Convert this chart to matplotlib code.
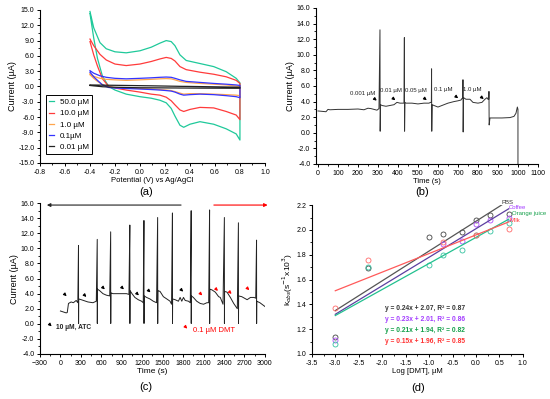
import matplotlib
matplotlib.use("Agg")
import matplotlib.pyplot as plt
from matplotlib.ticker import AutoMinorLocator, FormatStrFormatter

plt.rcParams['font.family'] = ['Liberation Sans', 'DejaVu Sans']

# ---- (a) cyclic voltammograms ----
E_fwd = [-0.4, -0.37, -0.32, -0.27, -0.2, -0.11, 0.0, 0.09, 0.16, 0.21, 0.25, 0.28,
         0.32, 0.37, 0.48, 0.59, 0.69, 0.77, 0.8]
E_rev = [0.8, 0.77, 0.69, 0.59, 0.48, 0.4, 0.35, 0.32, 0.28, 0.25, 0.21, 0.16, 0.09,
         0.0, -0.11, -0.2, -0.25, -0.3, -0.34, -0.37, -0.4]

i50_fwd = [14.7, 11.5, 8.6, 7.4, 6.8, 6.6, 7.0, 7.7, 8.5, 9.0, 8.8, 8.0, 6.2, 5.1, 4.5, 3.9, 2.9, 1.6, 0.7]
i50_rev = [-10.5, -9.3, -8.3, -7.4, -6.9, -7.4, -8.0, -7.6, -5.8, -4.3, -3.2, -2.7, -2.3,
           -2.0, -1.5, -0.7, 0.0, 2.0, 5.5, 9.5, 14.3]
i10_fwd = [9.3, 8.0, 6.3, 5.2, 4.4, 4.1, 4.4, 4.9, 5.4, 5.7, 5.5, 5.0, 3.9, 3.3, 2.8, 2.4, 1.9, 1.2, 0.6]
i10_rev = [-6.5, -5.6, -4.9, -4.2, -4.1, -4.5, -4.9, -4.6, -3.6, -2.8, -2.1, -1.7, -1.5,
           -1.1, -0.7, -0.3, 0.0, 1.5, 4.0, 6.2, 8.8]
i1_fwd = [2.5, 2.0, 1.6, 1.4, 1.3, 1.2, 1.3, 1.4, 1.5, 1.55, 1.5, 1.3, 1.0, 0.8, 0.6, 0.45, 0.3, 0.1, 0.0]
i1_rev = [-1.8, -1.7, -1.6, -1.5, -1.4, -1.4, -1.5, -1.3, -1.0, -0.8, -0.7, -0.6, -0.5,
          -0.4, -0.3, -0.2, -0.1, 0.4, 1.0, 1.6, 2.3]
i01_fwd = [3.1, 2.6, 2.1, 1.8, 1.6, 1.5, 1.6, 1.7, 1.8, 1.85, 1.8, 1.6, 1.3, 1.0, 0.8, 0.6, 0.45, 0.3, 0.2]
i01_rev = [-2.2, -2.0, -1.8, -1.6, -1.5, -1.6, -1.7, -1.5, -1.1, -0.9, -0.8, -0.7, -0.6,
           -0.5, -0.4, -0.3, -0.2, 0.3, 1.2, 1.9, 2.8]
i001_fwd = [0.3, 0.29, 0.27, 0.25, 0.23, 0.2, 0.16, 0.13, 0.1, 0.08, 0.06, 0.05, 0.03, 0.02,
            -0.02, -0.06, -0.1, -0.13, -0.15]
i001_rev = [-0.35, -0.35, -0.34, -0.33, -0.32, -0.31, -0.3, -0.3, -0.29, -0.29, -0.28, -0.27,
            -0.26, -0.25, -0.2, -0.15, -0.1, -0.05, 0.05, 0.12, 0.2]

cv_labels = ["50.0 \u00b5M", "10.0 \u00b5M", "1.0 \u00b5M", "0.1\u00b5M", "0.01 \u00b5M"]
cv_colors = ["#1fc99a", "#ff3b3b", "#ffa64d", "#3333ff", "#222222"]

# ---- (b) amperometric response ----
tb = [0, 20, 40, 50, 60, 100, 150, 200, 230, 250, 265, 280, 295, 305, 310, 311, 313,
      320, 340, 360, 380, 395, 410, 425, 430, 432, 433, 435,
      440, 470, 500, 530, 555, 563, 567, 568, 569, 571,
      580, 600, 620, 650, 680, 700, 715, 720, 724, 725, 726, 728,
      740, 760, 775, 800, 820, 835, 845, 850, 854, 855, 856, 860,
      880, 920, 960, 980, 990, 997, 1000, 1000]
ib = [2.8, 2.75, 2.7, 3.0, 2.95, 3.0, 3.0, 3.05, 2.95, 3.15, 3.1, 3.0, 2.9, 3.1, 13.2, 0.2, 3.6,
      3.5, 3.4, 3.5, 3.6, 3.9, 3.8, 3.8, 3.8, 12.2, 0.2, 3.9,
      3.8, 3.8, 3.7, 3.8, 3.8, 3.9, 3.9, 8.2, 0.2, 3.6,
      3.5, 3.3, 3.5, 3.8, 4.0, 4.1, 4.2, 4.4, 4.4, 6.8, 0.1, 4.5,
      4.3, 4.3, 3.9, 3.8, 3.9, 4.3, 4.5, 4.3, 4.3, 5.3, 1.0, 1.9,
      1.9, 1.9, 1.95, 2.1, 2.5, 3.3, 3.0, -4.0]
b_texts = ["0.001 \u00b5M", "0.01 \u00b5M", "0.05 \u00b5M", "0.1 \u00b5M", "1.0 \u00b5M"]
b_text_x = [225, 364, 488, 628, 772]
b_text_y = [5.0, 5.4, 5.4, 5.6, 5.5]
b_arrow_x = [305, 398, 555, 712, 840]
b_arrow_y = [3.9, 3.95, 3.95, 4.2, 4.1]

# ---- (c) repeated additions ----
tc = [0, 84, 100, 118, 157, 190, 231, 255, 265, 266, 268,
      305, 403, 477, 526, 540, 541, 543,
      575, 624, 674, 723, 737, 738, 740,
      772, 870, 969, 1005, 1018, 1019, 1021,
      1050, 1092, 1141, 1190, 1215, 1225, 1226, 1228,
      1264, 1313, 1362, 1410, 1426, 1427, 1429,
      1461, 1510, 1560, 1608, 1630, 1643, 1644, 1646,
      1682, 1731, 1756, 1780, 1805, 1830, 1878, 1905, 1918, 1919, 1921,
      1950, 1999, 2051, 2100, 2149, 2175, 2188, 2189, 2191,
      2223, 2272, 2321, 2345, 2385, 2405, 2406, 2408,
      2444, 2493, 2542, 2595, 2611, 2612, 2614,
      2660, 2739, 2788, 2840, 2865, 2877, 2878, 2880,
      2926, 3000]
ic = [1.7, 1.45, 1.5, 2.7, 2.9, 2.8, 3.1, 2.8, 10.4, 0.05, 3.3,
      3.2, 2.9, 2.8, 3.0, 11.2, 0.05, 4.6,
      4.4, 4.0, 3.8, 3.7, 12.2, 0.05, 4.1,
      4.0, 4.0, 4.0, 3.9, 13.1, 0.05, 4.4,
      4.0, 3.5, 3.2, 3.0, 2.8, 13.7, 0.05, 3.7,
      3.5, 3.3, 3.0, 2.8, 14.1, 0.05, 4.4,
      4.3, 3.6, 3.3, 3.0, 2.6, 14.7, 0.05, 3.3,
      3.2, 3.0, 3.5, 3.0, 3.5, 3.1, 3.0, 2.8, 15.0, 0.05, 3.7,
      3.5, 3.0, 2.7, 2.6, 2.8, 2.8, 15.1, 0.05, 4.6,
      4.5, 4.2, 3.6, 3.5, 2.6, 14.1, 0.05, 4.3,
      4.2, 3.5, 2.7, 2.0, 13.4, 0.05, 3.7,
      3.6, 3.2, 3.5, 3.5, 3.4, 11.1, 0.05, 3.0,
      2.8, 2.3]
c_black_x = [120, 410, 680, 960, 1180, 1350, 1830]
c_black_y = [3.4, 3.3, 4.3, 4.3, 3.5, 3.9, 4.0]
c_red_x = [2110, 2340, 2540, 2800]
c_red_y = [3.5, 4.1, 3.7, 4.2]

# ---- (d) calibration ----
d_x = [-3.0, -2.3, -1.0, -0.7, -0.3, 0.0, 0.3, 0.7]
k_pbs = [1.14, 1.69, 1.94, 1.97, 1.98, 2.08, 2.12, 2.13]
k_coffee = [1.11, None, None, 1.89, 1.91, 2.05, 2.08, 2.10]
k_orange = [1.08, 1.70, 1.72, 1.80, 1.84, 1.96, 1.99, 2.06]
k_milk = [1.37, 1.76, None, 1.90, None, 1.96, None, 2.01]
fit_slope = [0.24, 0.23, 0.21, 0.15]
fit_icpt = [2.07, 2.01, 1.94, 1.96]
fit_r2 = [0.87, 0.86, 0.82, 0.85]
fit_xmax = [0.55, 0.7, 0.7, 0.7]
d_names = ["PBS", "Coffee", "Orange juice", "Milk"]
d_line_col = ["#555555", "#5b3fa0", "#22c08f", "#ff5a5a"]
d_pt_col = ["#444444", "#b04dff", "#33c2a0", "#ff6a6a"]
d_txt_col = ["#333333", "#a33cff", "#14a04a", "#ff3030"]

fig = plt.figure(figsize=(5.5, 3.99), dpi=100)
axa = fig.add_axes([0.0727, 0.5915, 0.409, 0.3835])
axb = fig.add_axes([0.5745, 0.589, 0.4036, 0.391])
axc = fig.add_axes([0.0727, 0.1128, 0.409, 0.378])
axd = fig.add_axes([0.567, 0.1128, 0.3836, 0.373])


def style(ax):
    ax.spines['top'].set_visible(False)
    ax.spines['right'].set_visible(False)
    for s in ['left', 'bottom']:
        ax.spines[s].set_linewidth(0.8)
    ax.tick_params(which='major', direction='out', length=2.5, width=0.7, labelsize=5, pad=1.5)
    ax.tick_params(which='minor', direction='out', length=1.5, width=0.6)
    ax.xaxis.set_minor_locator(AutoMinorLocator(2))
    ax.yaxis.set_minor_locator(AutoMinorLocator(2))


# (a)
curves = [(i50_fwd, i50_rev), (i10_fwd, i10_rev), (i1_fwd, i1_rev), (i01_fwd, i01_rev), (i001_fwd, i001_rev)]
for (f, r), lab, col in zip(curves, cv_labels, cv_colors):
    axa.plot(E_fwd + E_rev, f + r, color=col, lw=0.9, label=lab)
axa.set_xlim(-0.8, 1.0)
axa.set_ylim(-15, 15)
axa.set_xticks([-0.8, -0.6, -0.4, -0.2, 0.0, 0.2, 0.4, 0.6, 0.8, 1.0])
axa.set_yticks(range(-15, 16, 3))
axa.xaxis.set_major_formatter(FormatStrFormatter('%.1f'))
axa.yaxis.set_major_formatter(FormatStrFormatter('%.1f'))
style(axa)
axa.set_xlabel("Potential (V) vs Ag/AgCl", fontsize=5.5, labelpad=1)
axa.set_ylabel("Current (\u00b5A)", fontsize=6.5, labelpad=1)
leg = axa.legend(loc='lower left', bbox_to_anchor=(0.01, 0.03), fontsize=5.8, handlelength=0.5,
                 handletextpad=0.8, labelspacing=0.45, borderpad=0.4, fancybox=False,
                 edgecolor='black', framealpha=1)
leg.get_frame().set_linewidth(0.7)

# (b)
axb.plot(tb, ib, color='#333333', lw=0.7)
axb.set_xlim(-10, 1100)
axb.set_ylim(-4, 16)
axb.set_xticks(range(0, 1101, 100))
axb.set_yticks(range(-4, 17, 2))
axb.yaxis.set_major_formatter(FormatStrFormatter('%.1f'))
style(axb)
axb.set_xlabel("Time (s)", fontsize=5.5, labelpad=1)
axb.set_ylabel("Current (\u00b5A)", fontsize=6.5, labelpad=1)
for t, x, y in zip(b_texts, b_text_x, b_text_y):
    axb.text(x, y, t, fontsize=4.3, ha='center', va='center', color='#222222')
for x, y in zip(b_arrow_x, b_arrow_y):
    axb.annotate('', xy=(x, y), xytext=(-5, 4), textcoords='offset points',
                 arrowprops=dict(arrowstyle='-|>', lw=0.8, color='black', mutation_scale=4))

# (c)
axc.plot(tc, ic, color='#222222', lw=0.7)
axc.set_xlim(-300, 3000)
axc.set_ylim(-4, 16)
axc.set_xticks(range(-300, 3001, 300))
axc.set_yticks(range(-4, 17, 2))
axc.yaxis.set_major_formatter(FormatStrFormatter('%.1f'))
style(axc)
axc.set_xlabel("Time (s)", fontsize=6, labelpad=1)
axc.set_ylabel("Current (\u00b5A)", fontsize=6.5, labelpad=1)
for x, y in zip(c_black_x, c_black_y):
    axc.annotate('', xy=(x, y), xytext=(-4, 4), textcoords='offset points',
                 arrowprops=dict(arrowstyle='-|>', lw=0.8, color='black', mutation_scale=4))
for x, y in zip(c_red_x, c_red_y):
    axc.annotate('', xy=(x, y), xytext=(-4, 4), textcoords='offset points',
                 arrowprops=dict(arrowstyle='-|>', lw=0.8, color='red', mutation_scale=4))
axc.annotate('', xy=(-100, -0.6), xytext=(-4, 4), textcoords='offset points',
             arrowprops=dict(arrowstyle='-|>', lw=0.8, color='black', mutation_scale=4))
axc.text(-60, -0.5, "10 \u00b5M, ATC", fontsize=4.8, fontweight='bold', va='center', color='#222222')
axc.annotate('', xy=(1890, -0.9), xytext=(-4, 4), textcoords='offset points',
             arrowprops=dict(arrowstyle='-|>', lw=0.8, color='red', mutation_scale=4))
axc.text(1950, -0.9, "0.1 \u00b5M DMT", fontsize=5.5, va='center', color='red')
axc.annotate('', xy=(-240, 15.75), xytext=(1810, 15.75),
             arrowprops=dict(arrowstyle='-|>', lw=0.8, color='#222222', mutation_scale=5))
axc.annotate('', xy=(3080, 15.75), xytext=(2210, 15.75), annotation_clip=False,
             arrowprops=dict(arrowstyle='-|>', lw=0.8, color='red', mutation_scale=5))

# (d)
series = [k_pbs, k_coffee, k_orange, k_milk]
for k, lc, pc, s, b, xm in zip(series, d_line_col, d_pt_col, fit_slope, fit_icpt, fit_xmax):
    xs = [x for x, v in zip(d_x, k) if v is not None]
    ys = [v for v in k if v is not None]
    axd.plot(xs, ys, 'o', mfc='none', mec=pc, ms=3.6, mew=0.6)
    axd.plot([-3.0, xm], [s * -3.0 + b, s * xm + b], color=lc, lw=0.9)
label_pos = [(0.55, 2.225), (0.7, 2.18), (0.77, 2.135), (0.72, 2.08)]
for name, col, (x, y) in zip(d_names, d_txt_col, label_pos):
    axd.text(x, y, name, fontsize=4.3, color=col, va='center', clip_on=False)
eq_y = [1.37, 1.28, 1.19, 1.10]
for s, b, r, col, y in zip(fit_slope, fit_icpt, fit_r2, d_txt_col, eq_y):
    axd.text(-1.95, y, "y = %.2fx + %.2f, R\u00b2 = %.2f" % (s, b, r), fontsize=4.8,
             color=col, va='center', fontweight='bold')
axd.set_xlim(-3.5, 1.0)
axd.set_ylim(1.0, 2.2)
axd.set_xticks([-3.5, -3.0, -2.5, -2.0, -1.5, -1.0, -0.5, 0.0, 0.5, 1.0])
axd.set_yticks([1.0, 1.2, 1.4, 1.6, 1.8, 2.0, 2.2])
axd.xaxis.set_major_formatter(FormatStrFormatter('%.1f'))
axd.yaxis.set_major_formatter(FormatStrFormatter('%.1f'))
style(axd)
axd.set_xlabel("Log [DMT], \u00b5M", fontsize=5.5, labelpad=1)
axd.set_ylabel("k$_{obs}$(s$^{-1}$x10$^{3}$)", fontsize=6, labelpad=1)

fig.text(0.266, 1 - 192 / 399, "(a)", fontsize=8, ha='center', va='center')
fig.text(0.767, 1 - 192 / 399, "(b)", fontsize=8, ha='center', va='center')
fig.text(0.266, 1 - 387 / 399, "(c)", fontsize=8, ha='center', va='center')
fig.text(0.760, 1 - 388 / 399, "(d)", fontsize=8, ha='center', va='center')

fig.savefig("out.png", dpi=100)
